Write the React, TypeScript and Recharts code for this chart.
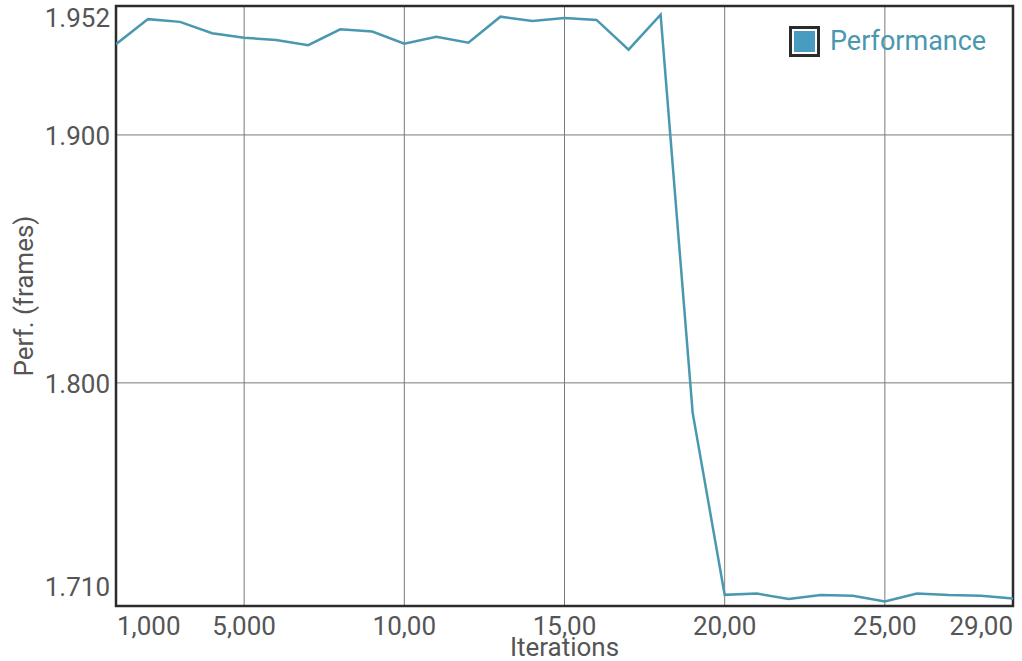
import React from 'react';
import { LineChart, Line, XAxis, YAxis, CartesianGrid, Legend, ReferenceArea } from 'recharts';

const iterations = [
  1000, 2000, 3000, 4000, 5000, 6000, 7000, 8000, 9000, 10000,
  11000, 12000, 13000, 14000, 15000, 16000, 17000, 18000, 19000, 20000,
  21000, 22000, 23000, 24000, 25000, 26000, 27000, 28000, 29000,
];
const performance = [
  1.9366, 1.9467, 1.9456, 1.941, 1.9392, 1.9383, 1.9362, 1.9426, 1.9417, 1.9368,
  1.9396, 1.9372, 1.9477, 1.946, 1.9472, 1.9464, 1.9344, 1.9485, 1.788, 1.7145,
  1.715, 1.7128, 1.7144, 1.7141, 1.7118, 1.715, 1.7144, 1.7141, 1.713,
];

const xTicks = [1000, 5000, 10000, 15000, 20000, 25000, 29000];
const xTickLabels = ['1,000', '5,000', '10,00', '15,00', '20,00', '25,00', '29,00'];
const yTicks = [1.71, 1.8, 1.9, 1.952];
const yTickLabels = ['1.710', '1.800', '1.900', '1.952'];

const xDomain = [1000, 29000];
const yDomain = [1.71, 1.952];

const LINE_COLOR = '#4a98b0';
const TEXT_COLOR = '#555555';
const FONT = 'Roboto, sans-serif';
const WEIGHT = 400;

const data = iterations.map((it, i) => ({ it, perf: performance[i] }));

function XTick(props: any) {
  const { x, y, payload } = props;
  const v = payload.value;
  const i = xTicks.indexOf(v);
  let anchor: 'start' | 'middle' | 'end' = 'middle';
  let dx = 0;
  if (v === xDomain[0]) { anchor = 'start'; dx = 1; }
  if (v === xDomain[1]) { anchor = 'end'; }
  return (
    <text x={x + dx} y={y + 28.5} textAnchor={anchor} fill={TEXT_COLOR}
      fontFamily={FONT} fontWeight={WEIGHT} fontSize={26}>
      {i >= 0 ? xTickLabels[i] : v}
    </text>
  );
}

function YTick(props: any) {
  const { x, y, payload } = props;
  const v = payload.value;
  const i = yTicks.indexOf(v);
  let dy = 10;
  if (v === yDomain[1]) dy = 21;
  if (v === yDomain[0]) dy = -10;
  return (
    <text x={x - 6} y={y + dy} textAnchor="end" fill={TEXT_COLOR}
      fontFamily={FONT} fontWeight={WEIGHT} fontSize={26}>
      {i >= 0 ? yTickLabels[i] : v}
    </text>
  );
}

function XLabel(props: any) {
  const { viewBox } = props;
  return (
    <text x={viewBox.x + viewBox.width / 2} y={viewBox.y + 50} textAnchor="middle"
      fill={TEXT_COLOR} fontFamily={FONT} fontWeight={WEIGHT} fontSize={26}>
      Iterations
    </text>
  );
}

function YLabel(props: any) {
  const { viewBox } = props;
  const cx = viewBox.x + 33;
  const cy = viewBox.y + viewBox.height / 2 - 10;
  return (
    <text x={cx} y={cy} textAnchor="middle" transform={`rotate(-90, ${cx}, ${cy})`}
      fill={TEXT_COLOR} fontFamily={FONT} fontWeight={WEIGHT} fontSize={26}>
      Perf. (frames)
    </text>
  );
}

function LegendBox(props: any) {
  const { payload } = props;
  return (
    <div style={{ display: 'flex', flexDirection: 'column' }}>
      {(payload || []).map((entry: any) => (
        <div key={entry.value} style={{ display: 'flex', alignItems: 'center' }}>
          <div style={{
            width: 21, height: 21, border: '3px solid #2b2b2b', padding: 2,
            boxSizing: 'content-box', marginRight: 10, flex: 'none',
          }}>
            <div style={{ width: 21, height: 21, background: '#489cc0' }} />
          </div>
          <span style={{ fontFamily: FONT, fontWeight: WEIGHT, fontSize: 27, color: LINE_COLOR, lineHeight: '32px' }}>
            {entry.value}
          </span>
        </div>
      ))}
    </div>
  );
}

export default function App() {
  return (
    <div style={{ width: 1022, height: 661 }}>
      <style>{'body { margin: 0; }'}</style>
      <LineChart width={1022} height={661} data={data}
        margin={{ top: 6, right: 9, bottom: 0, left: 0 }}>
        <CartesianGrid stroke="#7a7a7a" strokeWidth={1} />
        <XAxis dataKey="it" type="number" domain={xDomain} ticks={xTicks}
          allowDataOverflow height={55} tick={<XTick />} tickSize={0} tickMargin={0}
          axisLine={false} tickLine={false} interval={0}
          label={<XLabel />} />
        <YAxis type="number" domain={yDomain} ticks={yTicks} allowDataOverflow
          width={116} tick={<YTick />} tickSize={0} tickMargin={0}
          axisLine={false} tickLine={false} interval={0}
          label={<YLabel />} />
        <Legend verticalAlign="middle" align="center" layout="horizontal"
          content={<LegendBox />}
          wrapperStyle={{ top: 25, left: 789, width: 'auto', right: 'auto', bottom: 'auto' }} />
        <Line type="linear" dataKey="perf" name="Performance" stroke={LINE_COLOR}
          strokeWidth={2.5} dot={false} activeDot={false} isAnimationActive={false} />
        <ReferenceArea x1={xDomain[0]} x2={xDomain[1]} y1={yDomain[0]} y2={yDomain[1]}
          fill="none" stroke="#2b2b2b" strokeWidth={2.5} ifOverflow="visible" />
      </LineChart>
    </div>
  );
}
